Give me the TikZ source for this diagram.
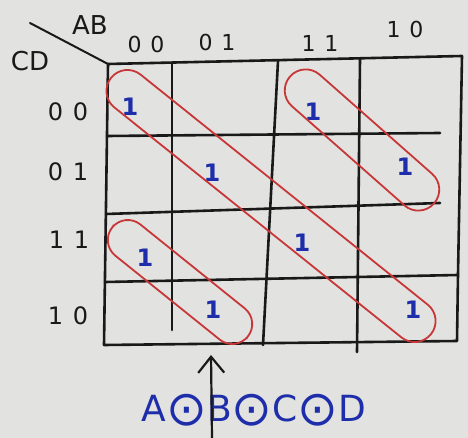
\documentclass[tikz,border=0pt]{standalone}
\usepackage{fontspec}
\setmainfont{DejaVu Sans}
\usetikzlibrary{arrows.meta}
\definecolor{paper}{RGB}{226,226,224}
\definecolor{pen}{RGB}{25,25,25}
\definecolor{ink}{RGB}{30,45,170}
\definecolor{loopred}{RGB}{200,55,55}
\newcommand\xnorop{\raisebox{-0.1em}{\scalebox{1.35}{⊙}}}
\tikzset{
  grid/.style={draw=pen, line width=2.6pt, line cap=round, line join=round},
  lbl/.style={text=pen, font=\fontsize{22}{24}\selectfont\addfontfeature{LetterSpace=40}},
  rowlbl/.style={text=pen, font=\fontsize{24}{26}\selectfont\addfontfeature{LetterSpace=40}},
  big/.style={text=pen, font=\fontsize{26}{28}\selectfont},
  one/.style={text=ink, font=\fontsize{24}{26}\selectfont\bfseries},
  loopline/.style={draw=loopred, line width=1.8pt},
}
\begin{document}
\begin{tikzpicture}[x=1pt,y=-1pt]
\fill[paper] (0,0) rectangle (468,438);
\useasboundingbox (0,0) rectangle (468,438);
% corner label
\draw[grid, line width=2pt] (30,23) -- (108,64);
\node[big] (ab) at (90,25) {AB};
\node[big] (cd) at (30,61) {CD};
% column labels
\node[lbl] (c00) at (146,44) {00};
\node[lbl] (c01) at (217,42) {01};
\node[lbl] (c11) at (320,43) {11};
\node[lbl] (c10) at (405,29) {10};
% row labels
\node[rowlbl] (r00) at (68,112) {00};
\node[rowlbl] (r01) at (68,172) {01};
\node[rowlbl] (r11) at (69,240) {11};
\node[rowlbl] (r10) at (68,316) {10};
% grid
\draw[grid] (108,64) -- (462,56) -- (458,274) -- (457,341) -- (104,345) -- cycle;
\draw[grid] (172,63) -- (172,330);
\draw[grid] (278,61) -- (263,345);
\draw[grid] (360,59) -- (357,352);
\draw[grid] (107,136) -- (440,133);
\draw[grid] (106,214) -- (440,203);
\draw[grid] (105,282) -- (458,275);
% ones
\node[one] (m0) at (130,107) {1};
\node[one] (m8) at (313,112) {1};
\node[one] (m5) at (212,173) {1};
\node[one] (m9) at (405,167) {1};
\node[one] (m3) at (145,258) {1};
\node[one] (m15) at (302,243) {1};
\node[one] (m6) at (213,310) {1};
\node[one] (m10) at (413,310) {1};
% loops
\begin{scope}[shift={(271,206)}, rotate=-38.7]
\draw[loopline, rounded corners=21pt] (-205,-21) rectangle (205,21);
\end{scope}
\begin{scope}[shift={(362,140)}, rotate=-41.4]
\draw[loopline, rounded corners=21pt] (-96,-21) rectangle (96,21);
\end{scope}
\begin{scope}[shift={(180,282)}, rotate=-38.8]
\draw[loopline, rounded corners=20pt] (-87,-20) rectangle (87,20);
\end{scope}
% expression and arrow
\node[text=ink, font=\fontsize{36}{40}\selectfont] (expr) at (254,410) {A\xnorop B\xnorop C\xnorop D};
\coordinate (tail) at (212,438);
\coordinate (tip) at (211,355);
\draw[pen, line width=2.2pt, -{Straight Barb[length=16pt,width=26pt]}] (tail) -- (tip);
\end{tikzpicture}
\end{document}
